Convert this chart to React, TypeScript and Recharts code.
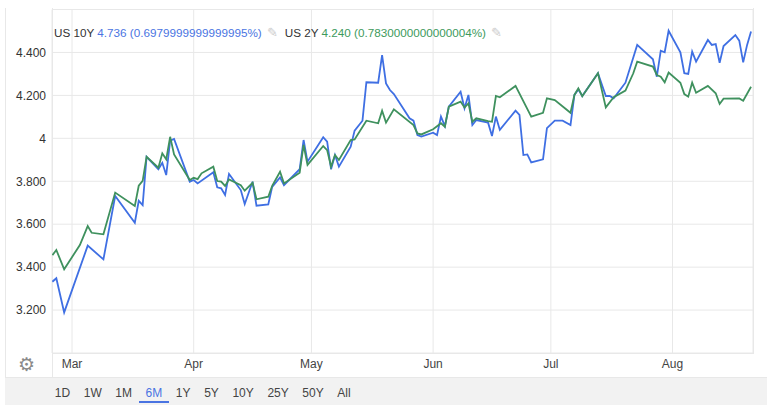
import { CartesianGrid, Line, LineChart, XAxis, YAxis } from 'recharts';

// days counted from Mar 1
const tenYearDays = [
  -5, -4, -2, 4, 8, 11, 16, 17, 18, 19, 22, 23, 24, 25, 26, 30, 31, 32, 36, 37,
  38, 39, 40, 43, 44, 46, 47, 50, 51, 53, 54, 58, 59, 60, 64, 65, 66, 67, 68, 71,
  72, 74, 75, 78, 79, 80, 81, 82, 86, 87, 88, 89, 92, 93, 94, 95, 96, 99, 100, 101,
  102, 103, 106, 107, 108, 109, 113, 114, 115, 116, 117, 120, 121, 123, 125, 127, 128, 129, 130, 134,
  136, 137, 138, 141, 144, 148, 149, 150, 151, 152, 155, 156, 157, 158, 159, 162, 163, 164, 165, 166,
  169, 170, 171, 172, 173,
];
const us10y = [
  3.332, 3.348, 3.189, 3.5, 3.436, 3.731, 3.607, 3.709, 3.689, 3.914, 3.856, 3.886, 3.829, 3.989, 3.997, 3.798, 3.806, 3.79, 3.842, 3.772,
  3.767, 3.736, 3.834, 3.759, 3.694, 3.798, 3.686, 3.692, 3.774, 3.818, 3.782, 3.856, 3.992, 3.891, 4.005, 3.984, 3.856, 3.922, 3.868, 3.961,
  4.036, 4.082, 4.261, 4.259, 4.388, 4.256, 4.225, 4.206, 4.093, 4.082, 4.015, 4.008, 4.026, 4.015, 4.101, 4.057, 4.147, 4.217, 4.14, 4.202,
  4.062, 4.085, 4.073, 4.011, 4.101, 4.039, 4.129, 4.109, 3.922, 3.925, 3.888, 3.902, 4.047, 4.082, 4.082, 4.062, 4.202, 4.228, 4.197, 4.303,
  4.197, 4.197, 4.186, 4.259, 4.435, 4.368, 4.287, 4.408, 4.401, 4.501, 4.401, 4.303, 4.3, 4.404, 4.357, 4.458, 4.435, 4.439, 4.352, 4.43,
  4.481, 4.455, 4.354, 4.435, 4.497,
];

const twoYearDays = [
  -5, -4, -2, 2, 4, 5, 8, 11, 16, 17, 18, 19, 22, 23, 24, 25, 26, 30, 31, 32,
  33, 36, 37, 38, 39, 40, 43, 44, 46, 47, 50, 51, 53, 54, 58, 59, 60, 64, 65, 66,
  67, 68, 71, 72, 75, 78, 79, 80, 82, 87, 88, 89, 92, 94, 95, 96, 99, 100, 101, 102,
  103, 106, 107, 108, 109, 113, 117, 120, 121, 123, 127, 128, 129, 130, 134, 136, 138, 141, 143, 144,
  148, 149, 150, 151, 152, 155, 156, 157, 158, 159, 162, 164, 165, 166, 170, 171, 173,
];
const us2y = [
  3.456, 3.48, 3.39, 3.503, 3.591, 3.56, 3.553, 3.747, 3.685, 3.779, 3.802, 3.914, 3.863, 3.93, 3.902, 4.007, 3.925, 3.806, 3.816, 3.81,
  3.837, 3.868, 3.801, 3.798, 3.778, 3.809, 3.782, 3.756, 3.793, 3.716, 3.728, 3.779, 3.844, 3.79, 3.84, 3.969, 3.876, 3.964, 3.945, 3.868,
  3.922, 3.899, 3.992, 3.995, 4.082, 4.07, 4.129, 4.073, 4.135, 4.062, 4.023, 4.018, 4.042, 4.07, 4.054, 4.147, 4.171, 4.143, 4.163, 4.077,
  4.093, 4.08, 4.077, 4.197, 4.191, 4.244, 4.101, 4.119, 4.186, 4.178, 4.119, 4.202, 4.233, 4.196, 4.303, 4.144, 4.191, 4.222, 4.303, 4.357,
  4.334, 4.295, 4.287, 4.261, 4.306, 4.259, 4.206, 4.194, 4.259, 4.212, 4.244, 4.21, 4.16, 4.185, 4.186, 4.175, 4.24,
];

const monthTicks = [0, 31, 61, 92, 122, 153];
const monthLabels = ['Mar', 'Apr', 'May', 'Jun', 'Jul', 'Aug'];
const yTicks = [3.2, 3.4, 3.6, 3.8, 4, 4.2, 4.4];
const ranges = ['1D', '1W', '1M', '6M', '1Y', '5Y', '10Y', '25Y', '50Y', 'All'];
const activeRange = '6M';

const BLUE = '#3f6fe3';
const GREEN = '#3f915e';
const LINE = '#e8e8e8';
const FONT = 'Arial, "Liberation Sans", sans-serif';

const tenYear = tenYearDays.map((day, i) => ({ day, value: us10y[i] }));
const twoYear = twoYearDays.map((day, i) => ({ day, value: us2y[i] }));

const fmtY = (v: number) => (v === 4 ? '4' : v.toFixed(3));
const fmtX = (v: number) => monthLabels[monthTicks.indexOf(v)] ?? '';

function rule(left: number, top: number, width: number, height: number) {
  return (
    <div style={{ position: 'absolute', left, top, width, height, background: LINE }} />
  );
}

export default function App() {
  return (
    <div
      style={{
        position: 'absolute',
        left: 0,
        top: 0,
        width: 776,
        height: 410,
        background: '#fff',
        fontFamily: FONT,
      }}
    >
      {rule(5, 8, 1, 396)}
      {rule(52, 8, 1, 369)}
      {rule(753, 8, 1, 345)}
      {rule(52, 353, 702, 1)}
      <div
        style={{
          position: 'absolute',
          left: 5,
          top: 377,
          width: 762,
          height: 27,
          background: '#f2f2f2',
          borderTop: `1px solid ${LINE}`,
        }}
      />

      <LineChart
        width={776}
        height={376}
        margin={{ top: 9.5, right: 23, bottom: 0, left: 0 }}
        style={{ position: 'absolute', left: 0, top: 0 }}
      >
        <CartesianGrid stroke={LINE} />
        <XAxis
          type="number"
          dataKey="day"
          domain={[-5.1, 173.5]}
          ticks={monthTicks}
          tickFormatter={fmtX}
          axisLine={false}
          tickLine={false}
          tickSize={0}
          tickMargin={6}
          height={23}
          tick={{ fill: '#444', fontSize: 12, fontFamily: FONT }}
          allowDataOverflow
        />
        <YAxis
          type="number"
          domain={[3.0, 4.6]}
          ticks={yTicks}
          tickFormatter={fmtY}
          axisLine={false}
          tickLine={false}
          tickSize={0}
          tickMargin={6}
          width={52}
          tick={{ fill: '#333', fontSize: 12, fontFamily: FONT }}
          allowDataOverflow
        />
        <Line
          data={tenYear}
          dataKey="value"
          type="linear"
          stroke={BLUE}
          strokeWidth={1.8}
          dot={false}
          isAnimationActive={false}
        />
        <Line
          data={twoYear}
          dataKey="value"
          type="linear"
          stroke={GREEN}
          strokeWidth={1.8}
          dot={false}
          isAnimationActive={false}
        />
      </LineChart>

      <div
        style={{
          position: 'absolute',
          left: 54,
          top: 26,
          fontSize: 11.7,
          lineHeight: '14px',
          whiteSpace: 'nowrap',
          color: '#333',
        }}
      >
        <span>US 10Y </span>
        <span style={{ color: '#4a74e2' }}>4.736 (0.6979999999999995%)</span>
        <span style={{ color: '#ccc', margin: '0 7px 0 5px', fontSize: 13 }}>✎</span>
        <span>US 2Y </span>
        <span style={{ color: '#3d9a5c' }}>4.240 (0.7830000000000004%)</span>
        <span style={{ color: '#ccc', marginLeft: 5, fontSize: 13 }}>✎</span>
      </div>

      <div
        style={{
          position: 'absolute',
          left: 18,
          top: 353,
          fontSize: 19,
          lineHeight: '22px',
          color: '#8a8a8a',
          fontFamily: '"DejaVu Sans", sans-serif',
        }}
      >
        ⚙
      </div>

      <div style={{ position: 'absolute', left: 48, top: 385, display: 'flex' }}>
        {ranges.map((r) => (
          <div
            key={r}
            style={{
              padding: '0 6.8px',
              fontSize: 12,
              lineHeight: '16px',
              color: r === activeRange ? '#4a74e2' : '#444',
              borderBottom: `2px solid ${r === activeRange ? '#4a74e2' : 'transparent'}`,
            }}
          >
            {r}
          </div>
        ))}
      </div>
    </div>
  );
}
